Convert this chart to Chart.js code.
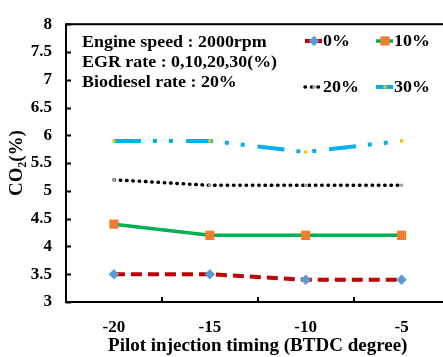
<!DOCTYPE html>
<html>
<head>
<meta charset="utf-8">
<script src="https://cdn.jsdelivr.net/npm/chart.js@4.4.0/dist/chart.umd.min.js"></script>
<style>
  html, body { margin: 0; padding: 0; background: #fff; overflow: hidden; }
  #wrap { width: 456px; height: 357px; }
</style>
</head>
<body>
<div id="wrap"><canvas id="c" width="456" height="357"></canvas></div>
<script>
// data
const timings = ['-20', '-15', '-10', '-5'];
const egr0 = [3.5, 3.5, 3.4, 3.4];
const egr10 = [4.4, 4.2, 4.2, 4.2];
const egr20 = [5.2, 5.1, 5.1, 5.1];
const egr30 = [5.9, 5.9, 5.7, 5.9];
const seriesNames = ['0%', '10%', '20%', '30%'];
const noteLines = ['Engine speed : 2000rpm', 'EGR rate : 0,10,20,30(%)', 'Biodiesel rate : 20%'];

const serif = '"Liberation Serif", "Times New Roman", serif';

// text in the source picture is a bit wider than Times, so stretch it sideways
function wideText(ctx, s, x, y, stretch) {
    ctx.save();
    ctx.translate(x, y);
    ctx.scale(stretch, 1);
    ctx.fillText(s, 0, 0);
    ctx.restore();
}

// frame, inside tick marks, notes and the legend
const extras = {
    id: 'extras',
    afterDraw(chart) {
        const ctx = chart.ctx;
        const a = chart.chartArea;
        const x = chart.scales.x, y = chart.scales.y;
        ctx.save();
        ctx.strokeStyle = '#000';
        ctx.lineWidth = 2;
        ctx.strokeRect(a.left, a.top, a.right - a.left, a.bottom - a.top);
        ctx.beginPath();
        y.ticks.forEach(t => {
            const py = Math.round(y.getPixelForValue(t.value)) + 0.5;
            ctx.moveTo(a.left, py);
            ctx.lineTo(a.left + 5, py);
        });
        for (let i = 1; i < timings.length; i++) {
            const px = Math.round((x.getPixelForValue(i - 1) + x.getPixelForValue(i)) / 2);
            ctx.moveTo(px, a.bottom);
            ctx.lineTo(px, a.bottom - 5);
        }
        ctx.stroke();

        ctx.fillStyle = '#000';
        ctx.font = 'bold 16px ' + serif;
        ctx.textBaseline = 'middle';
        ctx.textAlign = 'left';
        noteLines.forEach((s, i) => wideText(ctx, s, 82, 43 + i * 20, 1.12));

        // legend
        const spots = [[305, 41], [376, 41], [305, 87], [376, 87]];
        chart.data.datasets.forEach((ds, i) => {
            const [lx, ly] = spots[i];
            ctx.save();
            ctx.strokeStyle = ds.borderColor;
            ctx.lineWidth = ds.borderWidth;
            ctx.lineCap = ds.borderCapStyle || 'butt';
            ctx.setLineDash(i === 2 ? [0.5, 6] : []);
            ctx.beginPath();
            ctx.moveTo(lx, ly);
            ctx.lineTo(lx + 17, ly);
            ctx.stroke();
            ctx.fillStyle = ds.pointBackgroundColor;
            ctx.strokeStyle = ds.pointBackgroundColor;
            ctx.setLineDash([]);
            Chart.helpers.drawPoint(ctx, {
                pointStyle: ds.pointStyle, radius: ds.pointRadius, borderWidth: 0, rotation: 0
            }, lx + 9, ly);
            ctx.restore();
            ctx.fillStyle = '#000';
            ctx.font = 'bold 16px ' + serif;
            ctx.textBaseline = 'middle';
            wideText(ctx, seriesNames[i], lx + 18, ly + 1, 1.12);
        });
        ctx.restore();
    }
};

new Chart(document.getElementById('c'), {
    type: 'line',
    data: {
        labels: timings,
        datasets: [
            {
                label: seriesNames[0], data: egr0,
                borderColor: '#C00000', borderWidth: 4, borderDash: [11, 6],
                pointStyle: 'rectRot', pointRadius: 5.2, pointBorderWidth: 0,
                pointBackgroundColor: '#5B9BD5', pointBorderColor: '#5B9BD5'
            },
            {
                label: seriesNames[1], data: egr10,
                borderColor: '#00B050', borderWidth: 3.5,
                pointStyle: 'rect', pointRadius: 6.5, pointBorderWidth: 0,
                pointBackgroundColor: '#ED7D31', pointBorderColor: '#ED7D31'
            },
            {
                label: seriesNames[2], data: egr20,
                borderColor: '#000', borderWidth: 3.5, borderDash: [0.5, 5.8], borderCapStyle: 'round',
                pointStyle: 'circle', pointRadius: 1.8, pointBorderWidth: 0,
                pointBackgroundColor: '#A5A5A5', pointBorderColor: '#A5A5A5'
            },
            {
                label: seriesNames[3], data: egr30,
                borderColor: '#00B0F0', borderWidth: 4, borderDash: [27, 12, 4, 12, 4, 13],
                pointStyle: 'circle', pointRadius: 1.8, pointBorderWidth: 0,
                pointBackgroundColor: '#FFC000', pointBorderColor: '#FFC000'
            }
        ]
    },
    options: {
        responsive: false,
        animation: false,
        layout: { padding: { top: 14, right: 4, left: 0, bottom: 0 } },
        plugins: { legend: { display: false }, tooltip: { enabled: false } },
        scales: {
            x: {
                type: 'category',
                offset: true,
                grid: { display: false, drawTicks: false },
                border: { display: false },
                ticks: { color: '#000', padding: 15, font: { family: serif, size: 17, weight: 'bold' } },
                title: {
                    display: true, text: 'Pilot injection timing (BTDC degree)', color: '#000',
                    font: { family: serif, size: 19, weight: 'bold' }, padding: { top: 0, bottom: 0 }
                },
                afterFit: s => { s.height = 55; }
            },
            y: {
                min: 3, max: 8,
                grid: { display: false, drawTicks: false },
                border: { display: false },
                ticks: {
                    stepSize: 0.5, color: '#000', padding: 14,
                    font: { family: serif, size: 17, weight: 'bold' },
                    callback: v => String(v)
                },
                title: {
                    display: true, text: 'CO₂(%)', color: '#000',
                    font: { family: serif, size: 19, weight: 'bold' }, padding: { top: 6, bottom: 0 }
                },
                afterFit: s => { s.width = 66; }
            }
        }
    },
    plugins: [extras]
});
</script>
</body>
</html>
